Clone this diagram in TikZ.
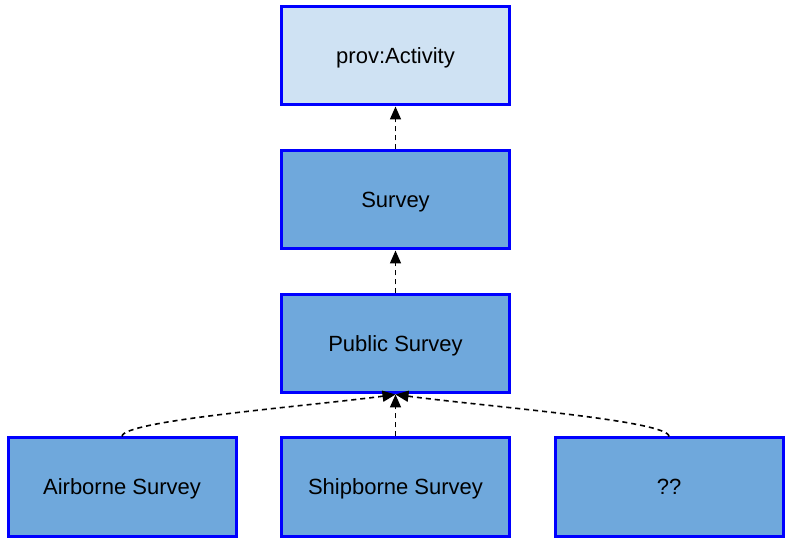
\documentclass[tikz,border=0pt]{standalone}
\usepackage{fontspec}
\setmainfont{Liberation Sans}
\usetikzlibrary{arrows.meta}
\begin{document}
\begin{tikzpicture}[x=1pt,y=1pt,
  box/.style={draw=blue,line width=3pt,fill=boxdark,minimum width=228pt,minimum height=98pt,inner sep=0pt,text height=20pt,text depth=4pt,font=\fontsize{22}{26}\selectfont},
  lightbox/.style={box,fill=boxlight},
  edge/.style={line width=1.6pt,dash pattern=on 5pt off 4pt,-{Triangle[length=13pt,width=11pt]}}]
\definecolor{boxdark}{HTML}{6FA8DC}
\definecolor{boxlight}{HTML}{CFE2F3}
\useasboundingbox (0,0) rectangle (793,544);
\node[lightbox] (act) at (395.5,488) {prov:Activity};
\node[box] (sur) at (395.5,344) {Survey};
\node[box] (pub) at (395.5,200) {Public Survey};
\node[box] (air) at (122,57) {Airborne Survey};
\node[box] (ship) at (395.5,57) {Shipborne Survey};
\node[box] (qq) at (669,57) {??};
\draw[edge] (sur.north) -- (act.south);
\draw[edge] (pub.north) -- (sur.south);
\draw[edge] (ship.north) -- (pub.south);
\draw[edge] (air.north) .. controls +(0,16) and +(-90,-12) .. (pub.south);
\draw[edge] (qq.north) .. controls +(0,16) and +(90,-12) .. (pub.south);
\end{tikzpicture}
\end{document}
